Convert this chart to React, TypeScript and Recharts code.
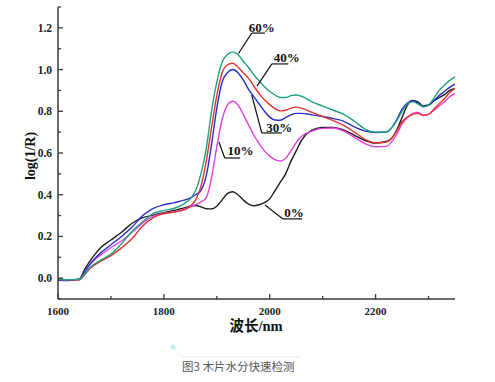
import React from 'react';
import { LineChart, Line, XAxis, YAxis, ReferenceLine, ReferenceDot } from 'recharts';

const wavelengths = [
  1600, 1620, 1640, 1650, 1660, 1670, 1680, 1700, 1720, 1740,
  1760, 1780, 1800, 1820, 1840, 1850, 1860, 1870, 1880, 1890,
  1900, 1910, 1920, 1930, 1940, 1950, 1960, 1970, 1980, 1990,
  2000, 2010, 2020, 2030, 2040, 2050, 2060, 2080, 2100, 2120,
  2140, 2160, 2180, 2200, 2220, 2230, 2240, 2250, 2260, 2270,
  2280, 2290, 2300, 2310, 2320, 2330, 2340, 2350,
];

const moisture0 = [
  -0.005, -0.008, -0.005, 0.04, 0.08, 0.115, 0.145, 0.183, 0.22, 0.263,
  0.29, 0.302, 0.314, 0.325, 0.338, 0.345, 0.348, 0.342, 0.333, 0.332,
  0.345, 0.375, 0.405, 0.414, 0.4, 0.375, 0.355, 0.347, 0.352, 0.362,
  0.38, 0.42, 0.46, 0.5, 0.56, 0.61, 0.66, 0.71, 0.722, 0.722,
  0.71, 0.685, 0.66, 0.648, 0.655, 0.67, 0.71, 0.77, 0.83, 0.852,
  0.845, 0.826, 0.83, 0.85, 0.865, 0.88, 0.9, 0.91,
];

const moisture10 = [
  -0.005, -0.008, -0.008, 0.03, 0.065, 0.09, 0.11, 0.147, 0.178, 0.22,
  0.265, 0.297, 0.31, 0.318, 0.332, 0.342, 0.352, 0.365, 0.385, 0.48,
  0.63, 0.76, 0.83, 0.848, 0.83, 0.785, 0.735, 0.685, 0.645, 0.61,
  0.585, 0.568, 0.562, 0.575, 0.61, 0.65, 0.68, 0.705, 0.718, 0.72,
  0.705, 0.675, 0.645, 0.63, 0.632, 0.652, 0.69, 0.74, 0.77, 0.79,
  0.795, 0.78, 0.785, 0.805, 0.825, 0.845, 0.87, 0.886,
];

const moisture30 = [
  -0.01, -0.012, -0.005, 0.03, 0.065, 0.095, 0.12, 0.16, 0.2, 0.245,
  0.3, 0.335, 0.352, 0.362, 0.375, 0.385, 0.4, 0.42, 0.49, 0.64,
  0.815, 0.94, 0.985, 1.0, 0.985, 0.95, 0.905, 0.87, 0.835, 0.8,
  0.772, 0.758, 0.757, 0.77, 0.783, 0.79, 0.79, 0.783, 0.775, 0.765,
  0.752, 0.725, 0.705, 0.698, 0.7, 0.72, 0.76, 0.81, 0.84, 0.85,
  0.838, 0.822, 0.83, 0.85, 0.875, 0.895, 0.915, 0.93,
];

const moisture40 = [
  -0.005, -0.008, -0.008, 0.015, 0.045, 0.065, 0.08, 0.108, 0.145, 0.19,
  0.25, 0.29, 0.31, 0.317, 0.33, 0.345, 0.375, 0.44, 0.56, 0.72,
  0.875, 0.985, 1.022, 1.03, 1.012, 0.985, 0.958, 0.92, 0.885, 0.855,
  0.832, 0.813, 0.802, 0.805, 0.815, 0.82, 0.815, 0.795, 0.775, 0.755,
  0.732, 0.7, 0.665, 0.648, 0.652, 0.668, 0.705, 0.75, 0.772, 0.785,
  0.79, 0.78, 0.785, 0.81, 0.835, 0.86, 0.89, 0.91,
];

const moisture60 = [
  -0.005, -0.008, -0.006, 0.02, 0.05, 0.07, 0.085, 0.115, 0.165, 0.225,
  0.27, 0.31, 0.325, 0.335, 0.36, 0.38, 0.42, 0.5, 0.62, 0.8,
  0.94, 1.035, 1.072, 1.085, 1.072, 1.04, 1.01, 0.975, 0.945, 0.918,
  0.895, 0.878, 0.866, 0.866, 0.875, 0.878, 0.872, 0.845, 0.825, 0.805,
  0.785, 0.752, 0.715, 0.7, 0.702, 0.72, 0.755, 0.8, 0.835, 0.845,
  0.835, 0.822, 0.83, 0.862, 0.9, 0.925, 0.948, 0.965,
];

const xTicks = [1600, 1700, 1800, 1900, 2000, 2100, 2200, 2300];
const xLabelTicks = [1600, 1800, 2000, 2200];
const yTicks = [-0.1, 0, 0.1, 0.2, 0.3, 0.4, 0.5, 0.6, 0.7, 0.8, 0.9, 1.0, 1.1, 1.2, 1.3];
const yLabelTicks = [0, 0.2, 0.4, 0.6, 0.8, 1.0, 1.2];

const seriesNames = ['0%', '10%', '30%', '40%', '60%'];
const seriesKeys = ['m0', 'm10', 'm30', 'm40', 'm60'];
const seriesColors = ['#1c1c1c', '#e63fe0', '#2a2ccc', '#e2332c', '#21a086'];

// annotation text positions and leader polylines (in data units)
const annotationLabels = ['60%', '40%', '30%', '10%', '0%'];
const annotationText = [
  [1985, 1.203],
  [2032, 1.06],
  [2018, 0.722],
  [1945, 0.613],
  [2046, 0.317],
];
const annotationLeaders = [
  [[1941, 1.077], [1966, 1.175], [1991, 1.175]],
  [[1976, 0.921], [2004, 1.027], [2035, 1.027]],
  [[1966, 0.878], [1985, 0.696], [2023, 0.696]],
  [[1904, 0.653], [1915, 0.576], [1944, 0.576]],
  [[1991, 0.351], [2025, 0.284], [2061, 0.284]],
];

const data = wavelengths.map((w, i) => ({
  w,
  m0: moisture0[i],
  m10: moisture10[i],
  m30: moisture30[i],
  m40: moisture40[i],
  m60: moisture60[i],
}));

const serif = "'Liberation Serif', 'Times New Roman', 'Noto Sans CJK SC', serif";
const axisColor = '#3a3a3a';

const XTick = (props: any) => {
  const { x, y, payload } = props;
  const v = payload.value;
  const major = xLabelTicks.includes(v);
  return (
    <g>
      <line x1={x} x2={x} y1={y} y2={y - (major ? 5 : 3)} stroke={axisColor} strokeWidth={1.3} />
      {major && (
        <text x={x} y={y + 16} textAnchor="middle" fontFamily={serif} fontWeight="bold" fontSize={11} fill="#222">
          {v}
        </text>
      )}
    </g>
  );
};

const YTick = (props: any) => {
  const { x, y, payload } = props;
  const v = payload.value as number;
  const major = Math.round(v * 10) % 2 === 0;
  return (
    <g>
      <line x1={x} x2={x + (major ? 5 : 3)} y1={y} y2={y} stroke={axisColor} strokeWidth={1.3} />
      {major && (
        <text x={x - 6} y={y + 4} textAnchor="end" fontFamily={serif} fontWeight="bold" fontSize={11.5} fill="#222">
          {v.toFixed(1)}
        </text>
      )}
    </g>
  );
};

const makeLabel = (text: string) => (p: any) => {
  const vb = p.viewBox || {};
  return (
    <text
      x={vb.x}
      y={vb.y}
      dy={4.5}
      textAnchor="middle"
      fontFamily={serif}
      fontWeight="bold"
      fontSize={13}
      fill="#111"
    >
      {text}
    </text>
  );
};

export default function App() {
  return (
    <div style={{ position: 'fixed', left: 0, top: 0, width: 495, height: 382, background: '#fff' }}>
      <LineChart
        width={495}
        height={382}
        data={data}
        margin={{ top: 7, right: 40, bottom: 53, left: 8 }}
      >
        <XAxis
          dataKey="w"
          type="number"
          domain={[1600, 2350]}
          ticks={xTicks}
          interval={0}
          height={30}
          tickSize={0}
          tickMargin={0}
          tickLine={false}
          axisLine={{ stroke: axisColor, strokeWidth: 1.5 }}
          tick={(p: any) => <XTick {...p} />}
          allowDataOverflow
        />
        <YAxis
          type="number"
          domain={[-0.1, 1.3]}
          ticks={yTicks}
          interval={0}
          width={50}
          tickSize={0}
          tickMargin={0}
          tickLine={false}
          axisLine={{ stroke: axisColor, strokeWidth: 1.5 }}
          tick={(p: any) => <YTick {...p} />}
          allowDataOverflow
        />
        {seriesKeys.map((k, i) => (
          <Line
            key={k}
            name={seriesNames[i]}
            dataKey={k}
            type="monotone"
            stroke={seriesColors[i]}
            strokeWidth={1.4}
            dot={false}
            activeDot={false}
            isAnimationActive={false}
          />
        ))}
        {annotationLeaders.map((pts, i) =>
          pts.slice(0, -1).map((pt, j) => (
            <ReferenceLine
              key={`lead-${i}-${j}`}
              segment={[
                { x: pt[0], y: pt[1] },
                { x: pts[j + 1][0], y: pts[j + 1][1] },
              ]}
              stroke="#111"
              strokeWidth={1.2}
              ifOverflow="visible"
            />
          ))
        )}
        {annotationLabels.map((t, i) => (
          <ReferenceDot
            key={`lab-${i}`}
            x={annotationText[i][0]}
            y={annotationText[i][1]}
            r={0}
            fill="none"
            stroke="none"
            ifOverflow="visible"
            label={makeLabel(t)}
          />
        ))}
      </LineChart>
      <svg
        width={495}
        height={382}
        style={{ position: 'absolute', left: 0, top: 0, pointerEvents: 'none' }}
      >
        <text
          transform="translate(30,156) rotate(-90)"
          textAnchor="middle"
          dominantBaseline="central"
          fontFamily={serif}
          fontWeight="bold"
          fontSize={14}
          fill="#111"
        >
          log(1/R)
        </text>
        <text
          x={256}
          y={331}
          textAnchor="middle"
          fontFamily={serif}
          fontWeight="bold"
          fontSize={14.5}
          fill="#111"
        >
          波长/nm
        </text>
        <path d="M173,347 L182,357 L300,357" stroke="#ececec" strokeWidth={1} fill="none" />
        <circle cx={173} cy={347} r={2.5} fill="#bfeff0" />
        <text
          x={182}
          y={371}
          textAnchor="start"
          fontFamily="'Noto Sans CJK SC', 'Noto Sans', sans-serif"
          fontSize={11.5}
          fill="#555"
        >
          图3 木片水分快速检测
        </text>
      </svg>
    </div>
  );
}
